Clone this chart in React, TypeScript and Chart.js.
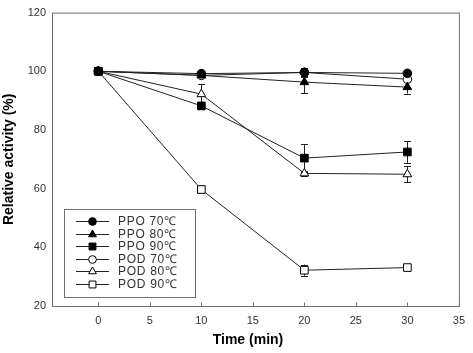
import React, { useEffect, useRef } from "react";
import { Chart, registerables } from "chart.js";

Chart.register(...registerables);

const times = [0, 10, 20, 30];
const seriesLabels = ["PPO 70℃", "PPO 80℃", "PPO 90℃", "POD 70℃", "POD 80℃", "POD 90℃"];
const ppo70 = [100, 99.2, 99.6, 99.3];
const ppo80 = [100, 98.6, 96.3, 94.6];
const ppo90 = [100, 88.2, 70.4, 72.5];
const pod70 = [100, 98.6, 99.6, 97.3];
const pod80 = [100, 92.2, 65.2, 64.9];
const pod90 = [100, 59.7, 32.2, 33.1];
const ppo70Err = [0, 0.8, 1.2, 0.8];
const ppo80Err = [0, 0.8, 3.8, 2.2];
const ppo90Err = [0, 1.2, 4.8, 3.7];
const pod70Err = [0, 0.9, 1.6, 1.0];
const pod80Err = [0, 3.5, 0.8, 2.8];
const pod90Err = [0, 0.8, 1.9, 0.9];
const xTicks = [0, 5, 10, 15, 20, 25, 30, 35];
const yTicks = [20, 40, 60, 80, 100, 120];
const xTitle = "Time (min)";
const yTitle = "Relative activity (%)";

const seriesValues = [ppo70, ppo80, ppo90, pod70, pod80, pod90];
const seriesErrors = [ppo70Err, ppo80Err, ppo90Err, pod70Err, pod80Err, pod90Err];
const pointStyles = ["circle", "triangle", "rect", "circle", "triangle", "rect"];
const pointFills = ["#000", "#000", "#000", "#fff", "#fff", "#fff"];
const pointRadii = [4.3, 5, 5.4, 4.3, 5, 5.4];

const FONT = '"Liberation Sans", Arial, sans-serif';

function drawMarker(ctx: CanvasRenderingContext2D, style: string, x: number, y: number, r: number, fill: string) {
  ctx.beginPath();
  if (style === "circle") {
    ctx.arc(x, y, r, 0, Math.PI * 2);
  } else if (style === "triangle") {
    ctx.moveTo(x, y - r);
    ctx.lineTo(x + r * Math.sin((2 * Math.PI) / 3), y - r * Math.cos((2 * Math.PI) / 3));
    ctx.lineTo(x + r * Math.sin((4 * Math.PI) / 3), y - r * Math.cos((4 * Math.PI) / 3));
    ctx.closePath();
  } else {
    const s = r * Math.SQRT1_2;
    ctx.rect(x - s, y - s, 2 * s, 2 * s);
  }
  ctx.fillStyle = fill;
  ctx.fill();
  ctx.strokeStyle = "#000";
  ctx.lineWidth = 1;
  ctx.stroke();
}

const customPlugin = {
  id: "customDecor",
  beforeDatasetsDraw(chart: any) {
    const ctx: CanvasRenderingContext2D = chart.ctx;
    const xs = chart.scales.x;
    const ys = chart.scales.y;
    ctx.save();
    ctx.strokeStyle = "#222";
    ctx.lineWidth = 1;
    seriesValues.forEach((vals, i) => {
      vals.forEach((v, j) => {
        const e = seriesErrors[i][j];
        if (!e) return;
        const px = Math.round(xs.getPixelForValue(times[j])) + 0.5;
        const top = ys.getPixelForValue(v + e);
        const bot = ys.getPixelForValue(v - e);
        ctx.beginPath();
        ctx.moveTo(px, top);
        ctx.lineTo(px, bot);
        ctx.moveTo(px - 3.5, Math.round(top) + 0.5);
        ctx.lineTo(px + 3.5, Math.round(top) + 0.5);
        ctx.moveTo(px - 3.5, Math.round(bot) + 0.5);
        ctx.lineTo(px + 3.5, Math.round(bot) + 0.5);
        ctx.stroke();
      });
    });
    ctx.restore();
  },
  afterDraw(chart: any) {
    const ctx: CanvasRenderingContext2D = chart.ctx;
    const a = chart.chartArea;
    const xs = chart.scales.x;
    ctx.save();
    // frame
    ctx.strokeStyle = "#707070";
    ctx.lineWidth = 1;
    ctx.strokeRect(a.left + 0.5, a.top + 0.5, a.right - a.left, a.bottom - a.top);
    // inward x ticks
    ctx.beginPath();
    xTicks.forEach((t) => {
      const px = Math.round(xs.getPixelForValue(t)) + 0.5;
      ctx.moveTo(px, a.bottom);
      ctx.lineTo(px, a.bottom - 3.5);
    });
    ctx.stroke();
    // titles
    ctx.fillStyle = "#000";
    ctx.font = `bold 14px ${FONT}`;
    ctx.textAlign = "center";
    ctx.textBaseline = "middle";
    ctx.fillText(xTitle, 248, 340);
    ctx.save();
    ctx.translate(9, (a.top + a.bottom) / 2);
    ctx.rotate(-Math.PI / 2);
    ctx.fillText(yTitle, 0, 0);
    ctx.restore();
    // legend
    const lx = 64, ly = 209, lw = 131, lh = 88;
    ctx.fillStyle = "#fff";
    ctx.fillRect(lx, ly, lw, lh);
    ctx.strokeStyle = "#707070";
    ctx.strokeRect(lx + 0.5, ly + 0.5, lw, lh);
    const rowY0 = 221;
    const rowStep = 12.5;
    seriesLabels.forEach((lab, i) => {
      const y = Math.round(rowY0 + i * rowStep) + 0.5;
      ctx.strokeStyle = "#222";
      ctx.beginPath();
      ctx.moveTo(76, y);
      ctx.lineTo(109, y);
      ctx.stroke();
      drawMarker(ctx, pointStyles[i], 92.5, y, pointRadii[i] * 0.9, pointFills[i]);
      ctx.fillStyle = "#333";
      ctx.font = `12px ${FONT}`;
      ctx.textAlign = "left";
      ctx.textBaseline = "middle";
      (ctx as any).letterSpacing = "0.7px";
      ctx.fillText(lab, 118, y + 0.5);
      (ctx as any).letterSpacing = "0px";
    });
    ctx.restore();
  },
};

export default function App() {
  const ref = useRef<HTMLCanvasElement>(null);
  useEffect(() => {
    if (!ref.current) return;
    const datasets = seriesValues.map((vals, i) => ({
      label: seriesLabels[i],
      data: vals.map((v, j) => ({ x: times[j], y: v })),
      borderColor: "#222",
      borderWidth: 1,
      backgroundColor: pointFills[i],
      pointStyle: pointStyles[i] as any,
      pointRadius: pointRadii[i],
      pointBackgroundColor: pointFills[i],
      pointBorderColor: "#000",
      pointBorderWidth: 1,
      fill: false,
      tension: 0,
    }));
    const chart = new Chart(ref.current, {
      type: "line",
      data: { datasets },
      plugins: [customPlugin],
      options: {
        responsive: false,
        animation: false,
        layout: { padding: { left: 0, top: 10, right: 11, bottom: 0 } },
        plugins: { legend: { display: false }, tooltip: { enabled: false } },
        scales: {
          x: {
            type: "linear",
            min: -4.5,
            max: 35,
            afterBuildTicks: (s: any) => {
              s.ticks = xTicks.map((v) => ({ value: v }));
            },
            afterFit: (s: any) => {
              s.height = 47;
            },
            grid: { display: false, drawTicks: false },
            border: { display: false },
            ticks: {
              padding: 8,
              color: "#333",
              font: { family: FONT, size: 11 },
              maxRotation: 0,
              autoSkip: false,
            },
          },
          y: {
            type: "linear",
            min: 20,
            max: 120,
            afterBuildTicks: (s: any) => {
              s.ticks = yTicks.map((v) => ({ value: v }));
            },
            afterFit: (s: any) => {
              s.width = 52;
            },
            grid: { display: false, drawTicks: false },
            border: { display: false },
            ticks: {
              padding: 6,
              color: "#333",
              font: { family: FONT, size: 11 },
            },
          },
        },
      },
    });
    return () => chart.destroy();
  }, []);
  return (
    <div style={{ position: "fixed", left: 0, top: 0, width: 473, height: 353, background: "#fff" }}>
      <canvas ref={ref} width={473} height={353} style={{ width: 473, height: 353 }} />
    </div>
  );
}
